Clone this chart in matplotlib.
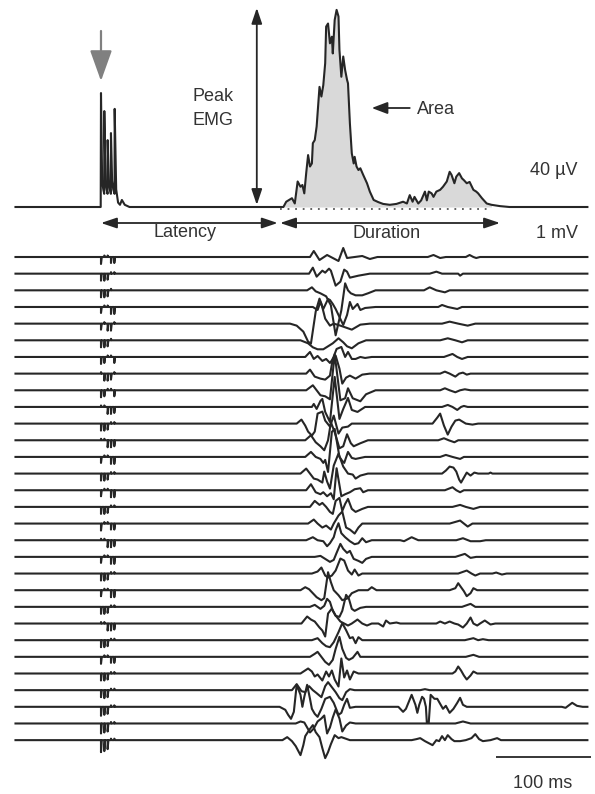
import matplotlib
matplotlib.use("Agg")
import matplotlib.pyplot as plt
import numpy as np

plt.rcParams["font.family"] = ["Liberation Sans", "DejaVu Sans"]

# stimulus train (ms) and response window (ms)
STIM_MS = [0, 3.5, 7, 10.5, 14]
ONSET_MS = 188
OFFSET_MS = 412

# rectified, averaged EMG (uV)
TOP_T = [-90, -0.3, 0, 1.2, 2.4, 3.4, 3.5, 4.7, 5.9, 6.9, 7.0, 8.2, 9.4, 10.4, 10.5, 11.7, 12.9, 14.3, 14.4,
         16, 18, 20, 22, 25, 30,
         192, 195, 201, 204, 207, 210, 212, 214, 216, 218, 220, 222, 223, 225, 227, 229, 230, 232, 234, 236,
         237, 239, 241, 243, 244, 246, 248, 250, 251, 253, 255, 257, 259, 260, 262, 264, 266, 267, 269, 271,
         273, 276, 280, 283, 287, 292, 297, 304, 311, 318, 322, 325, 328, 330, 334, 337, 341, 343, 345, 348,
         350, 353, 357, 360, 364, 367, 369, 372, 374, 377, 380, 382, 385, 388, 392, 395, 397, 401, 406, 411,
         420, 430, 512]
TOP_UV = [0, 0, 25.9, 6, 4, 3, 21.8, 6, 4, 3, 15.2, 6, 4, 3, 16.8, 6, 4, 3, 22.3,
          4, 1, 0.5, 1.6, 0.5, 0,
          0, 1.2, 2.0, 0.8, 5.8, 4.6, 5.0, 3.1, 7.7, 11.8, 9.2, 9.9, 14.5, 15.2, 18.3, 24.3, 27.3, 25.1, 27.7, 32.7,
          41.0, 41.7, 37.2, 38.7, 34.9, 42.5, 44.8, 43.3, 35.7, 29.6, 34.2, 31.1, 28.9, 28.1, 19.0, 12.2, 9.9, 11.4, 9.2, 8.4,
          8.8, 7.3, 5.4, 3.5, 1.6, 1.1, 0.7, 0.5, 0.7, 1.2, 0.8, 2.7, 1.2, 2.3, 0.8, 1.5, 3.5, 1.5, 3.5, 3.1,
          2.3, 3.5, 3.9, 4.6, 5.8, 8.0, 7.3, 5.4, 6.9, 7.7, 6.5, 6.1, 5.4, 5.7, 3.9, 3.5, 3.1, 2.0, 0.8, 0.5,
          0.2, 0, 0]

# raw sweeps: breakpoints after the stimulus (ms, mV), flat baseline elsewhere
RAW_T = [
    [220, 224, 230, 238, 244, 250, 255, 259, 275, 283, 291, 344, 350, 357, 363, 384, 388, 392, 395, 399],
    [219, 223, 227, 233, 236, 240, 242, 247, 252, 256, 259, 262, 271, 283, 346, 353, 359, 376, 378, 381],
    [217, 222, 226, 231, 237, 242, 247, 253, 257, 260, 263, 268, 275, 281, 289, 340, 346, 353, 362, 367],
    [223, 228, 231, 234, 239, 241, 244, 247, 255, 259, 262, 265, 270, 273, 278, 289, 355, 359, 365, 375, 380],
    [199, 206, 213, 218, 221, 226, 230, 232, 236, 241, 245, 252, 258, 264, 273, 283, 359, 367, 376, 386, 394],
    [210, 218, 223, 228, 234, 239, 244, 250, 255, 259, 264, 271, 279, 357, 365, 373, 380, 386],
    [215, 220, 224, 228, 233, 237, 241, 244, 248, 253, 257, 260, 264, 268, 273, 278, 285, 361, 370, 375, 380, 386],
    [216, 220, 225, 231, 236, 241, 244, 247, 251, 254, 258, 262, 268, 275, 283, 357, 362, 367, 373, 377, 381, 385, 389],
    [216, 223, 231, 236, 241, 246, 252, 257, 260, 265, 273, 279, 289, 357, 362, 367, 373, 378, 383, 389],
    [222, 224, 227, 231, 233, 236, 241, 246, 251, 255, 260, 264, 270, 278, 359, 365, 370, 375, 379, 382, 386],
    [206, 211, 215, 218, 222, 225, 228, 233, 236, 241, 245, 250, 254, 260, 264,
     349, 354, 357, 361, 365, 369, 373, 377, 384, 391, 397],
    [215, 221, 226, 231, 235, 239, 242, 246, 251, 255, 259, 263, 266, 273, 281, 355, 361, 366, 372, 376],
    [215, 221, 226, 231, 234, 236, 239, 243, 246, 251, 254, 256, 260, 264, 268, 278, 357, 363, 370, 378, 382],
    [210, 216, 220, 224, 228, 233, 235, 238, 241, 245, 250, 255, 260, 265, 268, 273, 281,
     359, 363, 367, 371, 374, 377, 379, 382, 385, 389, 393, 397, 408, 410, 412],
    [216, 221, 226, 231, 234, 238, 242, 245, 248, 253, 257, 262, 267, 273, 276, 281, 362, 370, 374, 378, 382],
    [220, 225, 230, 233, 237, 241, 244, 247, 251, 254, 257, 260, 264, 268, 275, 281, 370, 378, 384, 392, 399],
    [218, 224, 228, 233, 237, 242, 245, 250, 254, 258, 262, 267, 271, 275, 367, 378, 382, 386, 391],
    [216, 223, 228, 234, 238, 241, 245, 247, 250, 253, 257, 262, 267, 271, 275, 279, 285,
     315, 319, 327, 334, 374, 381, 389, 399, 405],
    [225, 231, 236, 241, 245, 248, 252, 255, 259, 262, 266, 271, 275, 279, 285, 373, 383, 389, 395],
    [222, 228, 232, 236, 239, 243, 247, 252, 256, 260, 264, 267, 271, 275,
     376, 385, 390, 394, 399, 412, 416, 422, 427],
    [210, 215, 219, 223, 227, 232, 235, 239, 242, 245, 250, 254, 260, 264, 271, 281, 285, 290,
     367, 373, 376, 379, 382, 385, 389, 392, 396],
    [220, 225, 231, 235, 238, 241, 244, 247, 251, 254, 258, 261, 264, 267, 273, 279, 380, 389, 394],
    [211, 217, 221, 225, 230, 233, 236, 239, 243, 247, 252, 260, 264, 270, 275, 280, 285, 292, 297, 300, 304, 311, 315,
     346, 353, 357, 362, 367, 372, 376, 381, 385, 389, 392, 396, 399, 404, 410, 415],
    [222, 228, 233, 237, 241, 245, 250, 254, 258, 262, 265, 268, 271, 275, 281, 383, 392, 397, 402, 408],
    [220, 225, 228, 232, 236, 240, 244, 247, 251, 254, 258, 261, 265, 270, 273, 279, 384, 392, 398],
    [210, 218, 222, 225, 228, 233, 237, 240, 243, 246, 250, 253, 256, 259, 262, 266, 271, 279,
     370, 373, 376, 379, 382, 385, 389, 392, 396],
    [201, 206, 211, 215, 219, 223, 227, 232, 236, 239, 243, 247, 251, 254, 258, 262, 267, 275, 336, 341, 346],
    [188, 194, 197, 200, 203, 206, 210, 212, 214, 217, 220, 222, 225, 228, 232, 236, 241, 245, 250, 253, 256, 259, 262, 268,
     313, 318, 321, 324, 327, 331, 333, 335, 338, 340, 342, 343, 345, 347, 351, 354, 357, 360, 363, 367,
     371, 375, 378, 381, 385, 485, 489, 496, 501, 507],
    [205, 210, 214, 217, 220, 224, 228, 232, 235, 238, 241, 244, 247, 251, 254, 258, 262, 268, 373, 381, 389],
    [191, 196, 201, 205, 210, 213, 215, 219, 223, 226, 230, 233, 236, 239, 242, 246, 250, 253, 256, 262,
     327, 332, 336, 341, 345, 349, 353, 356, 359, 362, 365, 369, 372, 378, 384, 390, 394, 398, 402, 410, 417, 421],
]
RAW_MV = [
    [0, 0.6, -0.3, 0.2, -0.1, -0.4, 0.9, -0.1, 0.1, -0.2, 0, 0, 0.2, -0.1, 0, 0, 0.2, 0, -0.1, 0],
    [0, 0.6, -0.3, 0.3, 0.1, 0.5, 0.3, -1.2, -0.8, 0.4, 0.2, -0.4, -0.2, 0, 0, 0.2, 0, 0, -0.2, 0],
    [0, 0.3, -0.1, -0.3, -0.6, -1.5, -4.5, -2.0, 0.7, 0, -0.3, -0.5, -0.5, -0.3, 0, 0, 0.3, 0, -0.2, 0],
    [0, -0.3, 0.5, -0.2, 0.8, 0.7, 0.3, -0.2, -1.8, -0.8, 0.5, -0.2, 0.3, -0.3, -0.1, 0, 0, 0.2, 0, -0.2, 0],
    [0, -0.2, -0.8, -1.8, -2.0, 1.2, 2.5, 2.0, 0.5, -0.2, 0, -0.2, -0.4, -0.6, -0.1, 0, 0, 0.2, 0, -0.2, 0],
    [0, -0.3, -0.7, -0.9, -0.9, -0.6, -0.3, 0.2, -0.2, -0.6, -0.8, -0.3, 0, 0, 0.2, 0, -0.2, 0],
    [0, 0.5, -0.2, 0.1, -0.4, -0.2, -0.6, -0.2, 0.8, 1.0, 0, 0.5, -0.2, -0.2, 0, -0.1, 0, 0, 0.3, 0, -0.2, 0],
    [0, 0.4, -0.3, -0.5, -0.6, -0.2, 1.5, 1.8, 0.5, -1.0, -0.4, -0.2, -0.5, -0.1, 0, 0, 0.2, 0, -0.3, 0, 0.1, -0.1, 0],
    [0, 0.5, -0.5, -0.6, -0.9, 3.6, -1.0, -0.8, 0.2, -0.8, -1.1, -0.4, 0, 0, 0.2, 0, -0.2, 0, 0.1, 0],
    [0, 0.3, -0.2, 0.6, 0.8, -0.5, -1.5, 3.0, -1.2, -0.2, 0.9, -0.3, -0.5, 0, 0, 0.2, 0, -0.3, 0, 0.1, 0],
    [0, 0.4, -0.2, -0.8, -1.2, -0.8, 1.0, 1.2, 0.3, -0.3, 0.8, -1.0, -0.4, -0.3, 0,
     0, 0.6, 1.0, -0.2, -1.1, -0.3, 0.3, 0.4, 0, -0.1, 0],
    [0, 0.5, -0.2, -0.6, -1.0, 0, 1.8, 0.8, -0.8, -0.6, 0.6, -0.3, -0.6, -0.3, 0, 0, 0.2, 0, -0.2, 0],
    [0, 0.5, 0, -0.2, -0.6, -0.3, -1.5, 2.5, 2.8, 0, -0.4, -0.6, 0.5, -0.1, -0.2, 0, 0, 0.2, 0, -0.2, 0],
    [0, 0.5, 0, -0.5, -0.6, -0.9, 0.2, -0.8, -1.5, 0.8, 2.0, 0.7, 0, -0.1, -0.5, -0.2, 0,
     0, 0.3, 0.7, 0.6, 0.2, -0.6, -0.9, -0.4, 0.1, -0.2, 0.1, 0, 0, 0.1, 0],
    [0, 0.6, -0.2, -0.4, -0.2, -0.6, -0.3, -0.9, 2.2, -0.6, -0.4, -0.2, 0.1, 0.2, -0.2, 0, 0, 0.3, 0, -0.2, 0],
    [0, 0.6, 0.2, 0.4, 0, -0.5, -0.7, 0.6, 0.9, -0.4, 0.3, 0.8, -0.2, -0.5, -0.2, 0, 0, 0.2, 0, -0.2, 0],
    [0, 0.4, 0, -0.4, -0.2, -0.6, 0, 0.8, 1.2, -0.4, -0.6, -1.0, -0.4, 0, 0, 0.3, 0, -0.3, 0],
    [0, 0.3, 0, -0.1, -0.6, -0.3, 0.3, 1.0, 1.7, 0.7, 0.3, -0.1, -0.4, -0.3, 0.2, -0.2, 0,
     0, -0.1, 0.3, 0, 0, 0.2, -0.1, -0.1, 0],
    [0, 0.1, -0.2, -0.5, -0.3, 0.4, 1.3, 0.8, 0.4, 0.6, -0.2, -0.4, -0.6, -0.2, 0, 0, 0.3, -0.1, 0],
    [0, 0.2, 0.6, -0.2, -0.4, -0.2, 0.3, 1.5, 1.3, 0.3, -0.1, 0.4, -0.2, 0,
     0, 0.3, 0, -0.2, 0, 0, 0.1, -0.1, 0],
    [0, 0.3, 0.1, -0.3, -0.7, -1.0, -0.8, 1.8, 0.8, 0, -0.5, -1.0, -0.8, -0.3, 0, 0, 0.3, 0,
     0, 0.2, 0.7, 0.3, -0.1, -0.6, -0.3, 0.2, 0],
    [0, 0.2, -0.2, 0.1, 0.8, 0.5, -0.4, -0.9, -1.0, -0.4, 1.2, 0.8, -0.2, -0.4, -0.1, 0, 0, 0.3, 0],
    [0, 0.7, 0.4, 0.2, -0.4, -0.7, -1.3, 1.0, 1.5, 0.8, 0.2, -0.2, 0, 0.4, 0, -0.2, 0, 0, -0.3, 0.3, 0, 0.1, 0,
     0, 0, 0.2, 0, 0.2, 0, -0.1, -0.4, 0, 0.6, 0, -0.2, 0, 0.3, -0.1, 0],
    [0, 0.2, -0.3, -0.6, -0.7, -0.2, 0.8, 1.7, 1.0, 0.2, 0.3, -0.3, 0.3, 0, 0, 0, 0.2, 0, 0.1, 0],
    [0, 0.3, 0.5, 0, -0.5, -0.8, -0.3, 0.8, 2.0, 0.8, -0.1, -0.3, -0.1, 0.5, 0, 0, 0, 0.2, 0],
    [0, 0.5, 0.2, -0.3, -0.1, -0.7, 0.2, -0.3, 0.3, -0.6, -1.3, 1.5, -0.4, 0.3, -0.6, 0.2, 0, 0,
     0, 0.2, 0.7, 0.3, -0.2, -0.6, -0.2, 0.2, 0],
    [0, 0.6, -0.1, -0.2, 0.4, 0, -0.3, -0.7, 0.4, 0.8, 0.3, -0.2, -0.8, -1.0, -0.2, 0.1, 0, 0, 0, 0.1, 0],
    [0, -0.3, -0.8, -1.2, -0.5, 2.2, 1.2, 0, 1.0, 2.2, 0.8, -0.2, -0.7, -1.0, -0.2, 0.8, 1.0, 0.4, -0.8, -0.6, 0.2, 0.8, -0.1, 0,
     0, -0.5, -0.2, 0.5, 1.2, 0.2, -0.6, 0.2, 1.0, 0.8, 0, -1.6, -1.6, 1.2, 0.8, 0.8, 0.3, -0.2, 0.1, -0.6,
     -0.2, 0.4, 0.9, 0.2, 0, 0, -0.1, 0.4, 0.1, 0],
    [0, 0.2, 0.1, -0.4, -0.9, -0.5, 0.2, 0.5, 0.8, -1.0, -0.4, 0.6, 1.4, 0.5, -0.8, -0.2, 0.1, 0, 0, 0.2, 0],
    [0, 0.3, -0.1, -0.6, -1.5, -0.5, 0.4, 1.0, 1.5, 0.8, 0.3, -0.8, -1.8, -1.2, -0.4, 0.5, 0.2, 0.3, 0.2, 0,
     0, 0.1, 0.2, -0.1, -0.3, -0.5, 0, -0.1, 0.4, 0, 0.5, 0.1, -0.1, -0.1, 0, 0.2, 0.6, 0.1, -0.1, 0, 0.2, 0],
]
# stimulus artefact on each sweep, one value per pulse (mV)
ARTIFACT_MV = [
    [-0.7, 0.15, 0.15, -0.6, -0.6], [-0.7, -0.7, -0.6, 0.15, 0.15], [-0.7, -0.7, -0.6, 0.15, 0],
    [-0.6, 0.15, 0.15, -0.7, -0.7], [-0.6, 0.15, -0.7, -0.7, 0.15], [-0.7, -0.7, -0.6, 0.15, 0],
    [-0.7, -0.6, 0.15, 0.15, -0.6], [0.15, -0.7, -0.7, -0.6, 0.15], [-0.7, -0.6, 0.15, 0.15, -0.6],
    [0.15, 0.15, -0.7, -0.7, -0.6], [-0.7, -0.7, -0.6, 0.15, 0.15], [0.15, 0.15, -0.7, -0.7, -0.6],
    [-0.6, 0.15, 0.15, -0.7, -0.7], [-0.7, -0.7, -0.6, 0.15, 0.15], [-0.6, 0.15, 0.15, -0.7, -0.7],
    [-0.7, -0.7, -0.6, 0.15, 0.15], [-0.7, 0.15, 0.15, -0.6, -0.6], [0.15, 0.15, -0.7, -0.7, -0.6],
    [-0.6, 0.15, 0.15, -0.7, -0.7], [-0.7, -0.7, -0.6, 0.15, 0.15], [-0.6, 0.15, 0.15, -0.7, -0.7],
    [-0.7, -0.7, -0.6, 0.15, 0.15], [0.15, 0.15, -0.7, -0.7, -0.6], [-0.7, -0.7, -0.6, 0.15, 0.15],
    [-0.7, 0.15, 0.15, -0.6, -0.6], [-0.7, -0.7, -0.6, 0.15, 0.15], [-0.7, -0.8, -0.7, 0.15, 0.15],
    [-0.9, -0.8, -0.7, 0.15, 0.15], [-1.0, -0.9, -0.8, 0.15, 0.15], [-1.2, -1.1, -0.9, 0.15, 0.15],
]

T_START, T_END = -90, 512
TOP_BASE = 58.7      # layout units
UV_GAIN = 0.44       # layout units per uV
RAW_BASE0 = 53.7
RAW_STEP = 1.666     # spacing between sweeps
LINE = "#262626"
TXT = "#333333"


def sweep(k):
    t, v = [T_START], [0]
    for tp, a in zip(STIM_MS, ARTIFACT_MV[k]):
        t += [tp, tp, tp + 0.8]
        v += [0, a, 0]
    t += [20] + RAW_T[k] + [T_END]
    v += [0] + RAW_MV[k] + [0]
    return np.array(t), np.array(v)


fig = plt.figure(figsize=(5.95, 7.94), dpi=100)
ax = fig.add_axes([0, 0, 1, 1])
ax.set_xlim(-106.3, 520)
ax.set_ylim(0, 79.4)
ax.axis("off")

# averaged rectified EMG
tt = np.array(TOP_T, dtype=float)
yy = TOP_BASE + UV_GAIN * np.array(TOP_UV)
win = (tt >= ONSET_MS) & (tt <= OFFSET_MS)
ax.fill_between(tt, TOP_BASE, yy, where=win, color="#d9d9d9", lw=0)
ax.plot([ONSET_MS, OFFSET_MS], [TOP_BASE - 0.2] * 2, color="#555555",
        lw=1.3, ls=(0, (1, 3.2)))
ax.plot(tt, yy, color=LINE, lw=1.5)

# single sweeps
for k in range(len(RAW_T)):
    t, v = sweep(k)
    ax.plot(t, RAW_BASE0 - k * RAW_STEP + v, color=LINE, lw=1.5)


def arrow(p0, p1, style):
    ax.annotate("", xy=p1, xytext=p0,
                arrowprops=dict(arrowstyle=style, color=LINE, lw=1.3,
                                shrinkA=0, shrinkB=0, mutation_scale=10))


both = "<|-|>,head_length=0.95,head_width=0.32"
peak = TOP_BASE + UV_GAIN * max(TOP_UV)
arrow((164, TOP_BASE + 0.2), (164, peak + 0.2), both)
arrow((STIM_MS[0], 57.1), (ONSET_MS - 2, 57.1), both)
arrow((ONSET_MS + 0.5, 57.1), (OFFSET_MS + 8, 57.1), both)
arrow((325, 68.6), (285, 68.6), "-|>,head_length=0.95,head_width=0.36")

# stimulus marker
ax.annotate("", xy=(STIM_MS[0], 71.3), xytext=(STIM_MS[0], 76.3),
            arrowprops=dict(arrowstyle="-|>,head_length=1.9,head_width=0.68",
                            color="#808080", lw=1.6, shrinkA=0, shrinkB=0,
                            mutation_scale=10))

# 100 ms scale bar
ax.plot([416, 516], [3.7, 3.7], color=LINE, lw=1.3, solid_capstyle="butt")

fs = 13
ax.text(96, 69.3, "Peak", fontsize=fs, color=TXT, ha="left", va="baseline")
ax.text(96, 66.9, "EMG", fontsize=fs, color=TXT, ha="left", va="baseline")
ax.text(333, 68.0, "Area", fontsize=fs, color=TXT, ha="left", va="baseline")
ax.text(502, 61.9, "40 µV", fontsize=fs, color=TXT, ha="right", va="baseline")
ax.text(502, 55.6, "1 mV", fontsize=fs, color=TXT, ha="right", va="baseline")
ax.text(88, 55.7, "Latency", fontsize=fs, color=TXT, ha="center", va="baseline")
ax.text(301, 55.6, "Duration", fontsize=fs, color=TXT, ha="center", va="baseline")
ax.text(465, 0.6, "100 ms", fontsize=fs, color=TXT, ha="center", va="baseline")

fig.savefig("out.png", dpi=100)
